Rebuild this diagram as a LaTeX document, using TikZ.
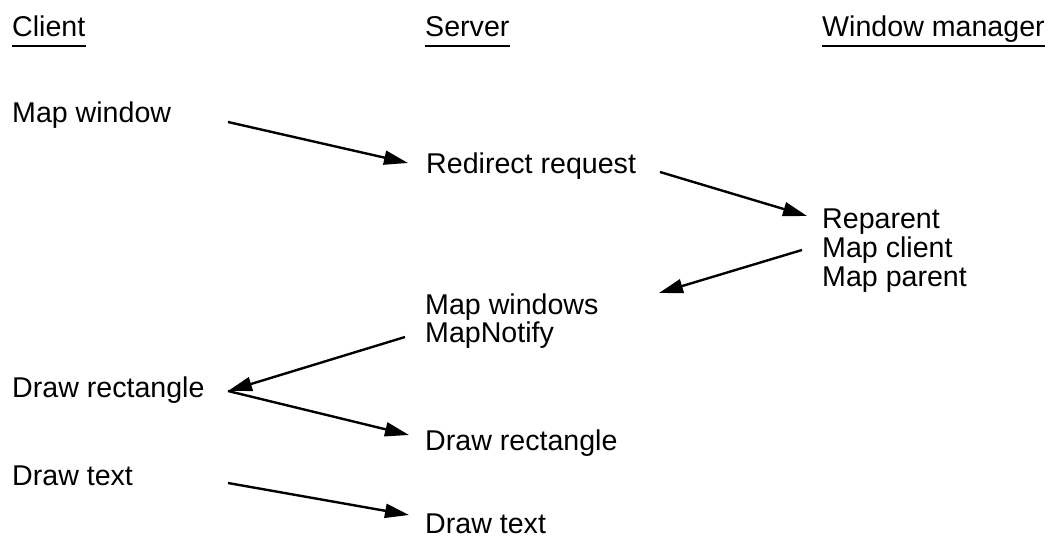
\documentclass[tikz,border=0pt]{standalone}
\usepackage{fontspec}
\setmainfont{Liberation Sans}
\usetikzlibrary{arrows.meta}

\begin{document}
\begin{tikzpicture}[x=1pt, y=-1pt, >={Triangle[length=24pt, width=14pt]},
    lbl/.style={anchor=base west, inner sep=0pt, font=\fontsize{28.6}{30}\selectfont},
    msg/.style={->, line width=2.4pt},
    uline/.style={line width=2.2pt}]
  \useasboundingbox (0,0) rectangle (1058,537);
  % column headers
  \node[lbl] (client) at (12,37) {Client};
  \node[lbl] (server) at (425,37) {Server};
  \node[lbl] (wm) at (822,37) {Window manager};
  \foreach \h in {client, server, wm}
    \draw[uline] ([yshift=-9pt]\h.base west) -- ([yshift=-9pt]\h.base east);
  % client
  \node[lbl] (mapwin) at (12,123) {Map window};
  \node[lbl] (drawrc) at (12,398) {Draw rectangle};
  \node[lbl] (drawtc) at (12,485) {Draw text};
  % server
  \node[lbl] (redir) at (426,174) {Redirect request};
  \node[lbl] (mapwins) at (425,315) {Map windows};
  \node[lbl] (mapnot) at (425,343) {MapNotify};
  \node[lbl] (drawrs) at (425,450) {Draw rectangle};
  \node[lbl] (drawts) at (425,533) {Draw text};
  % window manager
  \node[lbl] (repar) at (822,229) {Reparent};
  \node[lbl] (mapcl) at (822,258) {Map client};
  \node[lbl] (mappar) at (822,287) {Map parent};
  % messages
  \draw[msg] ([xshift=216pt, yshift=1pt]mapwin.base west) -- ([xshift=-18pt, yshift=11pt]redir.base west);
  \draw[msg] ([xshift=234pt, yshift=2pt]redir.base west) -- ([xshift=-15pt, yshift=13pt]repar.base west);
  \draw[msg] ([xshift=-20pt, yshift=8pt]mapcl.base west) -- ([xshift=234pt, yshift=22pt]mapwins.base west);
  \draw[msg] ([xshift=-20pt, yshift=6pt]mapnot.base west) -- ([xshift=216pt, yshift=7pt]drawrc.base west);
  \draw[msg] ([xshift=216pt, yshift=7pt]drawrc.base west) -- ([xshift=-16pt, yshift=15pt]drawrs.base west);
  \draw[msg] ([xshift=216pt, yshift=2pt]drawtc.base west) -- ([xshift=-16pt, yshift=18pt]drawts.base west);
\end{tikzpicture}
\end{document}
